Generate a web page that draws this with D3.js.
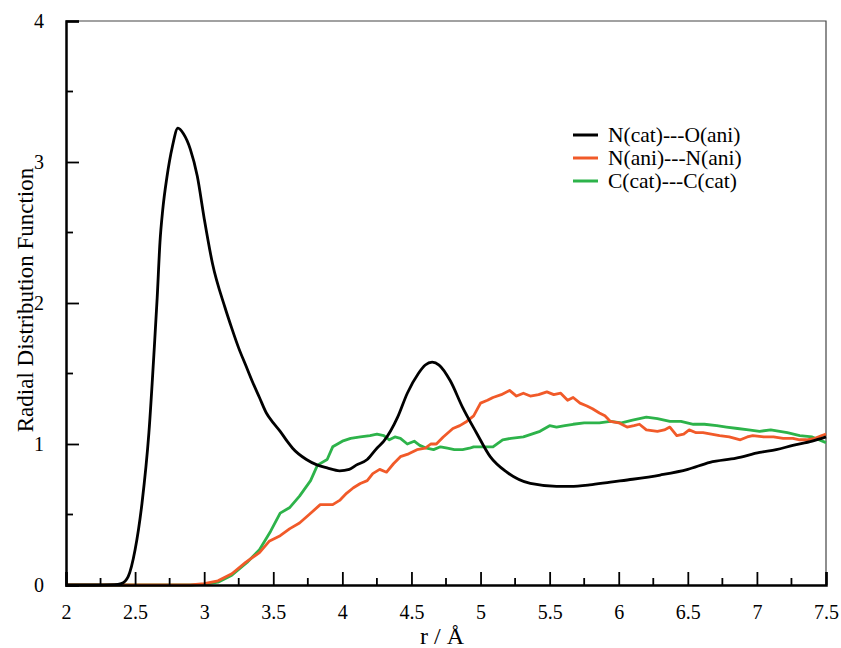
<!DOCTYPE html>
<html>
<head>
<meta charset="utf-8">
<script src="https://cdn.jsdelivr.net/npm/d3@7"></script>
<style>
  body { margin: 0; background: #fff; }
  text { font-family: "Liberation Serif", "Times New Roman", serif; fill: #000; }
</style>
</head>
<body>
<div id="rdf"></div>
<script>
"use strict";
// N(cat)---O(ani)
const rNO = [2.0, 2.2, 2.35, 2.4, 2.45, 2.5, 2.55, 2.6, 2.64, 2.66, 2.68, 2.7, 2.73, 2.77, 2.81, 2.85, 2.9, 2.95, 3.0, 3.06, 3.15, 3.2, 3.25, 3.3, 3.35, 3.4, 3.45, 3.5, 3.55, 3.6, 3.64, 3.74, 3.82, 3.89, 3.98, 4.05, 4.1, 4.18, 4.25, 4.3, 4.4, 4.47, 4.55, 4.6, 4.65, 4.7, 4.78, 4.87, 4.97, 5.07, 5.19, 5.36, 5.55, 5.65, 5.79, 5.94, 6.1, 6.3, 6.5, 6.66, 6.85, 7.02, 7.14, 7.26, 7.4, 7.5];
const gNO = [0, 0, 0.002, 0.01, 0.06, 0.25, 0.58, 1.08, 1.7, 2.04, 2.43, 2.66, 2.89, 3.11, 3.24, 3.2, 3.09, 2.9, 2.6, 2.28, 1.97, 1.82, 1.68, 1.56, 1.44, 1.33, 1.22, 1.15, 1.09, 1.02, 0.97, 0.89, 0.85, 0.83, 0.81, 0.82, 0.85, 0.89, 0.97, 1.02, 1.19, 1.36, 1.5, 1.56, 1.58, 1.56, 1.45, 1.26, 1.08, 0.91, 0.8, 0.72, 0.70, 0.70, 0.71, 0.73, 0.75, 0.78, 0.82, 0.87, 0.9, 0.94, 0.96, 0.99, 1.02, 1.05];
// N(ani)---N(ani)
const rNN = [2.0, 2.9, 3.0, 3.1, 3.2, 3.3, 3.4, 3.47, 3.55, 3.62, 3.69, 3.76, 3.84, 3.93, 3.98, 4.03, 4.08, 4.13, 4.18, 4.22, 4.27, 4.32, 4.37, 4.42, 4.48, 4.54, 4.6, 4.64, 4.68, 4.73, 4.8, 4.85, 4.9, 4.95, 5.0, 5.05, 5.09, 5.15, 5.21, 5.26, 5.31, 5.36, 5.42, 5.48, 5.53, 5.58, 5.63, 5.67, 5.72, 5.77, 5.81, 5.86, 5.9, 5.94, 6.0, 6.06, 6.11, 6.15, 6.2, 6.28, 6.33, 6.37, 6.42, 6.47, 6.51, 6.56, 6.61, 6.67, 6.73, 6.8, 6.88, 6.93, 6.97, 7.05, 7.12, 7.19, 7.26, 7.31, 7.36, 7.42, 7.47, 7.5];
const gNN = [0, 0, 0.01, 0.03, 0.08, 0.16, 0.23, 0.31, 0.35, 0.4, 0.44, 0.5, 0.57, 0.57, 0.6, 0.65, 0.69, 0.72, 0.74, 0.79, 0.82, 0.8, 0.86, 0.91, 0.93, 0.96, 0.97, 1.0, 1.0, 1.05, 1.11, 1.13, 1.16, 1.2, 1.29, 1.31, 1.33, 1.35, 1.38, 1.34, 1.36, 1.34, 1.35, 1.37, 1.35, 1.36, 1.31, 1.33, 1.29, 1.27, 1.25, 1.22, 1.2, 1.16, 1.15, 1.12, 1.13, 1.14, 1.10, 1.09, 1.1, 1.12, 1.06, 1.07, 1.10, 1.08, 1.08, 1.07, 1.06, 1.05, 1.03, 1.05, 1.06, 1.05, 1.05, 1.04, 1.04, 1.03, 1.03, 1.04, 1.06, 1.07];
// C(cat)---C(cat)
const rCC = [2.0, 2.9, 3.0, 3.1, 3.2, 3.31, 3.4, 3.48, 3.55, 3.62, 3.69, 3.77, 3.82, 3.89, 3.93, 4.0, 4.06, 4.13, 4.2, 4.25, 4.3, 4.34, 4.38, 4.42, 4.47, 4.52, 4.56, 4.61, 4.66, 4.71, 4.76, 4.81, 4.87, 4.92, 4.95, 5.02, 5.09, 5.16, 5.22, 5.31, 5.37, 5.43, 5.5, 5.55, 5.61, 5.67, 5.75, 5.86, 5.94, 6.02, 6.1, 6.2, 6.28, 6.37, 6.45, 6.54, 6.62, 6.71, 6.78, 6.86, 6.94, 7.02, 7.1, 7.22, 7.31, 7.4, 7.5];
const gCC = [0, 0, 0.005, 0.02, 0.07, 0.16, 0.25, 0.38, 0.51, 0.55, 0.63, 0.74, 0.85, 0.89, 0.98, 1.02, 1.04, 1.05, 1.06, 1.07, 1.06, 1.03, 1.05, 1.04, 1.0, 1.02, 0.99, 0.97, 0.96, 0.98, 0.97, 0.96, 0.96, 0.97, 0.98, 0.98, 0.98, 1.03, 1.04, 1.05, 1.07, 1.09, 1.13, 1.12, 1.13, 1.14, 1.15, 1.15, 1.16, 1.15, 1.17, 1.19, 1.18, 1.16, 1.16, 1.14, 1.14, 1.13, 1.12, 1.11, 1.1, 1.09, 1.1, 1.08, 1.06, 1.05, 1.01];

const seriesNames = ['N(cat)---O(ani)', 'N(ani)---N(ani)', 'C(cat)---C(cat)'];
const seriesColors = ['#000000', '#f15a29', '#2db34a'];
const xTicks = [2, 2.5, 3, 3.5, 4, 4.5, 5, 5.5, 6, 6.5, 7, 7.5];
const yTicks = [0, 1, 2, 3, 4];

const series = [
    { name: seriesNames[0], color: seriesColors[0], pts: rNO.map((r, i) => [r, gNO[i]]), smooth: true },
    { name: seriesNames[1], color: seriesColors[1], pts: rNN.map((r, i) => [r, gNN[i]]), smooth: false },
    { name: seriesNames[2], color: seriesColors[2], pts: rCC.map((r, i) => [r, gCC[i]]), smooth: false }
];

const width = 841;
const height = 648;
const plotLeft = 66, plotRight = 826, plotTop = 21, plotBottom = 585;
const serif = '"Liberation Serif", "Times New Roman", serif';

const x = d3.scaleLinear().domain([2, 7.5]).range([plotLeft, plotRight]);
const y = d3.scaleLinear().domain([0, 4]).range([plotBottom, plotTop]);

const svg = d3.select('#rdf').append('svg')
    .attr('width', width)
    .attr('height', height);

// thin top / right frame
svg.append('path')
    .attr('d', `M${plotLeft},${plotTop}H${plotRight}V${plotBottom}`)
    .attr('fill', 'none')
    .attr('stroke', '#444')
    .attr('stroke-width', 1.2);

// curves (drawn under the axes)
const lineSmooth = d3.line().x(d => x(d[0])).y(d => y(d[1])).curve(d3.curveMonotoneX);
const lineRaw = d3.line().x(d => x(d[0])).y(d => y(d[1]));
// green first, then red, black on top
[series[2], series[1], series[0]].forEach(s => {
    svg.append('path')
        .attr('d', (s.smooth ? lineSmooth : lineRaw)(s.pts))
        .attr('fill', 'none')
        .attr('stroke', s.color)
        .attr('stroke-width', 2.8)
        .attr('stroke-linejoin', 'round');
});

// x axis with inward ticks
const xAxis = d3.axisBottom(x).tickValues(xTicks).tickSize(-13).tickPadding(20)
    .tickFormat(d3.format(''));
const gx = svg.append('g').attr('transform', `translate(0,${plotBottom})`).call(xAxis);
gx.select('.domain').attr('stroke', '#000').attr('stroke-width', 2.5);
gx.selectAll('.tick line').attr('stroke', '#000').attr('stroke-width', 1.8);
gx.selectAll('.tick text').style('font-size', '20px').style('font-family', serif);
const xMinor = d3.range(2.25, 7.5, 0.5);
svg.append('g').selectAll('line').data(xMinor).join('line')
    .attr('x1', d => x(d)).attr('x2', d => x(d))
    .attr('y1', plotBottom).attr('y2', plotBottom - 7)
    .attr('stroke', '#000').attr('stroke-width', 1.8);

// y axis with inward ticks
const yAxis = d3.axisLeft(y).tickValues(yTicks).tickSize(-13).tickPadding(22)
    .tickFormat(d3.format(''));
const gy = svg.append('g').attr('transform', `translate(${plotLeft},0)`).call(yAxis);
gy.select('.domain').attr('stroke', '#000').attr('stroke-width', 2.5);
gy.selectAll('.tick line').attr('stroke', '#000').attr('stroke-width', 1.8);
gy.selectAll('.tick text').style('font-size', '20px').style('font-family', serif);
const yMinor = [0.5, 1.5, 2.5, 3.5];
svg.append('g').selectAll('line').data(yMinor).join('line')
    .attr('x1', plotLeft).attr('x2', plotLeft + 7)
    .attr('y1', d => y(d)).attr('y2', d => y(d))
    .attr('stroke', '#000').attr('stroke-width', 1.8);

// axis titles
svg.append('text')
    .attr('x', 442).attr('y', 644)
    .attr('text-anchor', 'middle')
    .style('font-size', '24px')
    .text('r / Å');
svg.append('text')
    .attr('transform', 'translate(33,300) rotate(-90)')
    .attr('text-anchor', 'middle')
    .style('font-size', '23px')
    .text('Radial Distribution Function');

// legend
const legend = svg.append('g');
series.forEach((s, i) => {
    const ly = 135 + i * 23;
    legend.append('line')
        .attr('x1', 573).attr('x2', 598)
        .attr('y1', ly).attr('y2', ly)
        .attr('stroke', s.color).attr('stroke-width', 3);
    legend.append('text')
        .attr('x', 608).attr('y', ly + 7)
        .style('font-size', '21.5px')
        .text(s.name);
});
</script>
</body>
</html>
